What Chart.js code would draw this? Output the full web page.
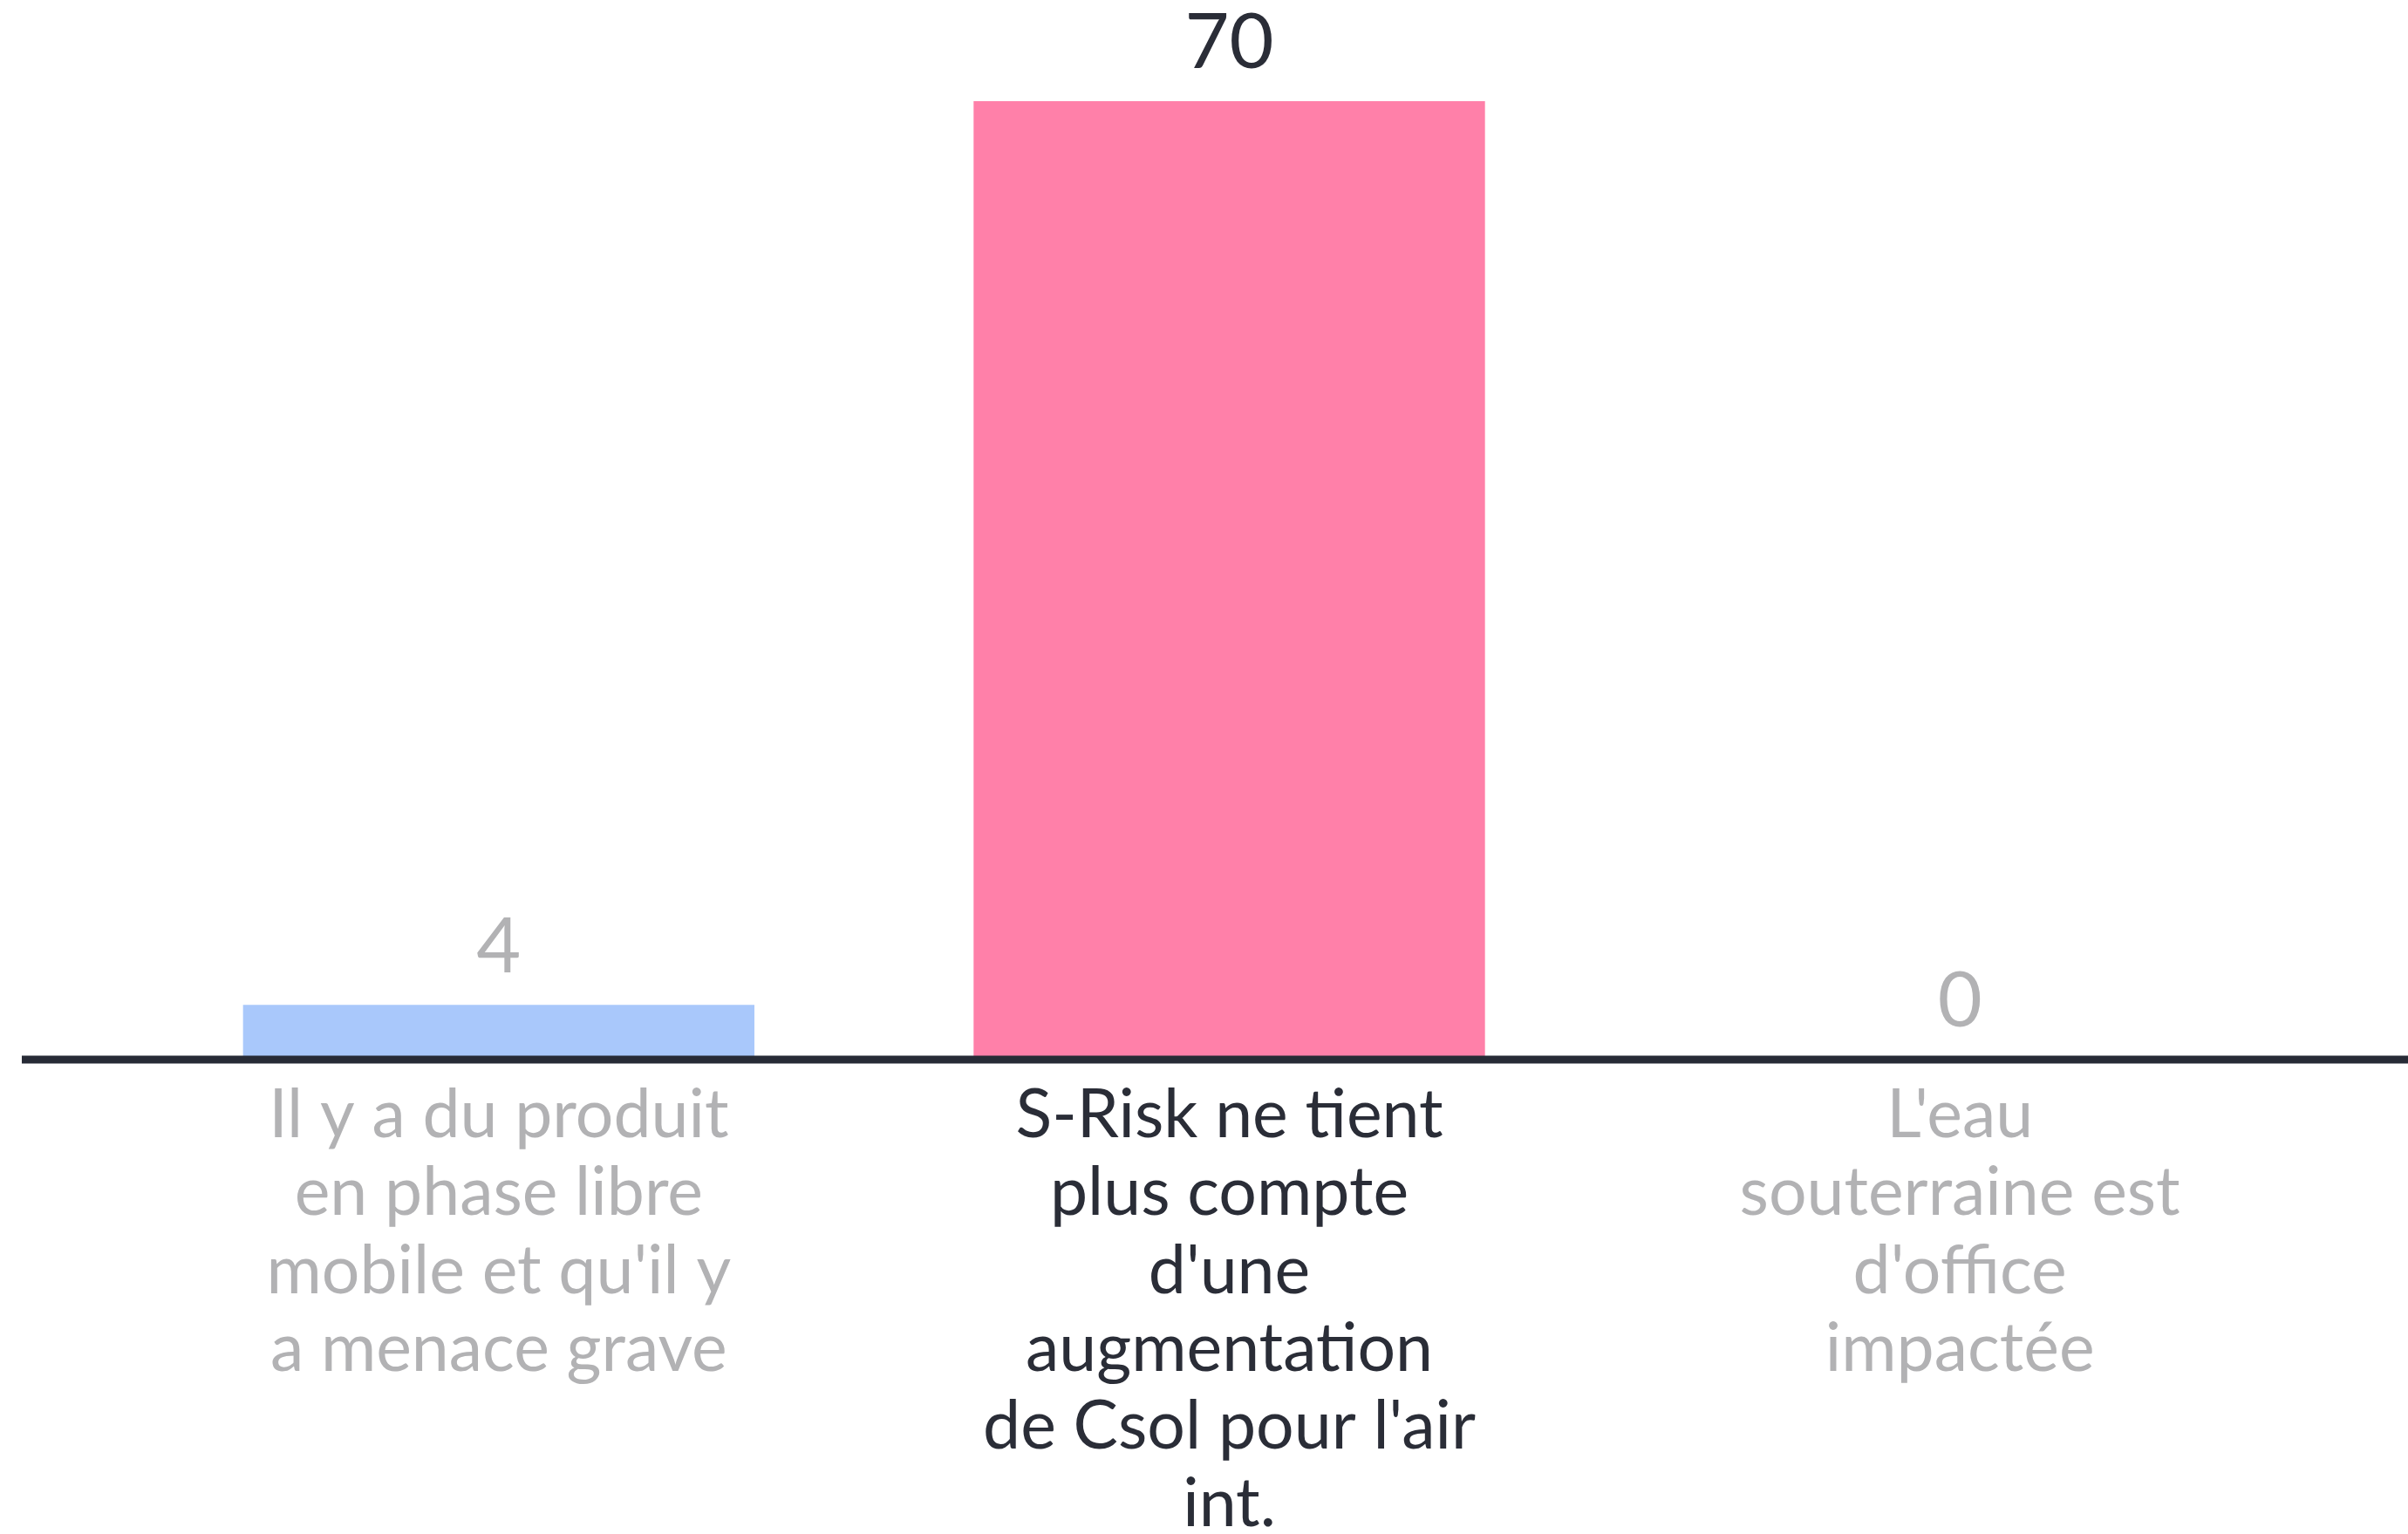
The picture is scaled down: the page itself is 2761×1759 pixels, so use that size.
<!DOCTYPE html>
<html lang="fr">
<head>
    <meta charset="UTF-8">
    <title>S-Risk</title>
    <script src="https://cdn.jsdelivr.net/npm/chart.js"></script>
    <style>
        html, body {
            margin: 0;
            padding: 0;
            background: #ffffff;
        }
        .wrap {
            width: 2761px;
            height: 1759px;
        }
    </style>
</head>
<body>
    <div class="wrap">
        <canvas id="chartCanvas" width="2761" height="1759"></canvas>
    </div>

    <script>
        // categories, one array of lines per label
        const categories = [
            ['Il y a du produit', 'en phase libre', "mobile et qu'il y", 'a menace grave'],
            ['S-Risk ne tient', 'plus compte', "d'une", 'augmentation', "de Csol pour l'air", 'int.'],
            ["L'eau", 'souterraine est', "d'office", 'impactée']
        ];
        const values = [4, 70, 0];
        const barColors = ['#a9c8fb', '#ff80a9', '#d9d9d9'];
        const textColors = ['#b2b2b4', '#2a2d37', '#b2b2b4'];

        const fontFamily = "Lato, 'Noto Sans', sans-serif";

        // value labels above the bars
        const valueLabels = {
            id: 'valueLabels',
            afterDatasetsDraw(chart) {
                const ctx = chart.ctx;
                const meta = chart.getDatasetMeta(0);
                ctx.save();
                ctx.font = `88px ${fontFamily}`;
                ctx.textAlign = 'center';
                ctx.textBaseline = 'bottom';
                meta.data.forEach((bar, i) => {
                    ctx.fillStyle = textColors[i];
                    ctx.fillText(String(values[i]), bar.x, bar.y - 22);
                });
                ctx.restore();
            }
        };

        // long baseline across the whole width
        const baseLine = {
            id: 'baseLine',
            afterDatasetsDraw(chart) {
                const ctx = chart.ctx;
                const y = chart.scales.y.getPixelForValue(0);
                ctx.save();
                ctx.strokeStyle = '#272b36';
                ctx.lineWidth = 9;
                ctx.beginPath();
                ctx.moveTo(25, y);
                ctx.lineTo(chart.width, y);
                ctx.stroke();
                ctx.restore();
            }
        };

        new Chart(document.getElementById('chartCanvas'), {
            type: 'bar',
            data: {
                labels: categories,
                datasets: [{
                    data: values,
                    backgroundColor: barColors,
                    borderWidth: 0,
                    barPercentage: 0.7,
                    categoryPercentage: 1.0
                }]
            },
            options: {
                responsive: false,
                animation: false,
                layout: {
                    padding: { left: 153, right: 95, top: 116, bottom: 0 }
                },
                plugins: {
                    legend: { display: false },
                    tooltip: { enabled: false }
                },
                scales: {
                    x: {
                        grid: { display: false, drawTicks: false },
                        border: { display: false },
                        afterFit: s => { s.height = 544; },
                        ticks: {
                            padding: 20,
                            maxRotation: 0,
                            autoSkip: false,
                            color: textColors,
                            font: { family: fontFamily, size: 77, lineHeight: 1.157 }
                        }
                    },
                    y: {
                        display: false,
                        min: 0,
                        max: 70
                    }
                }
            },
            plugins: [valueLabels, baseLine]
        });
    </script>
</body>
</html>
